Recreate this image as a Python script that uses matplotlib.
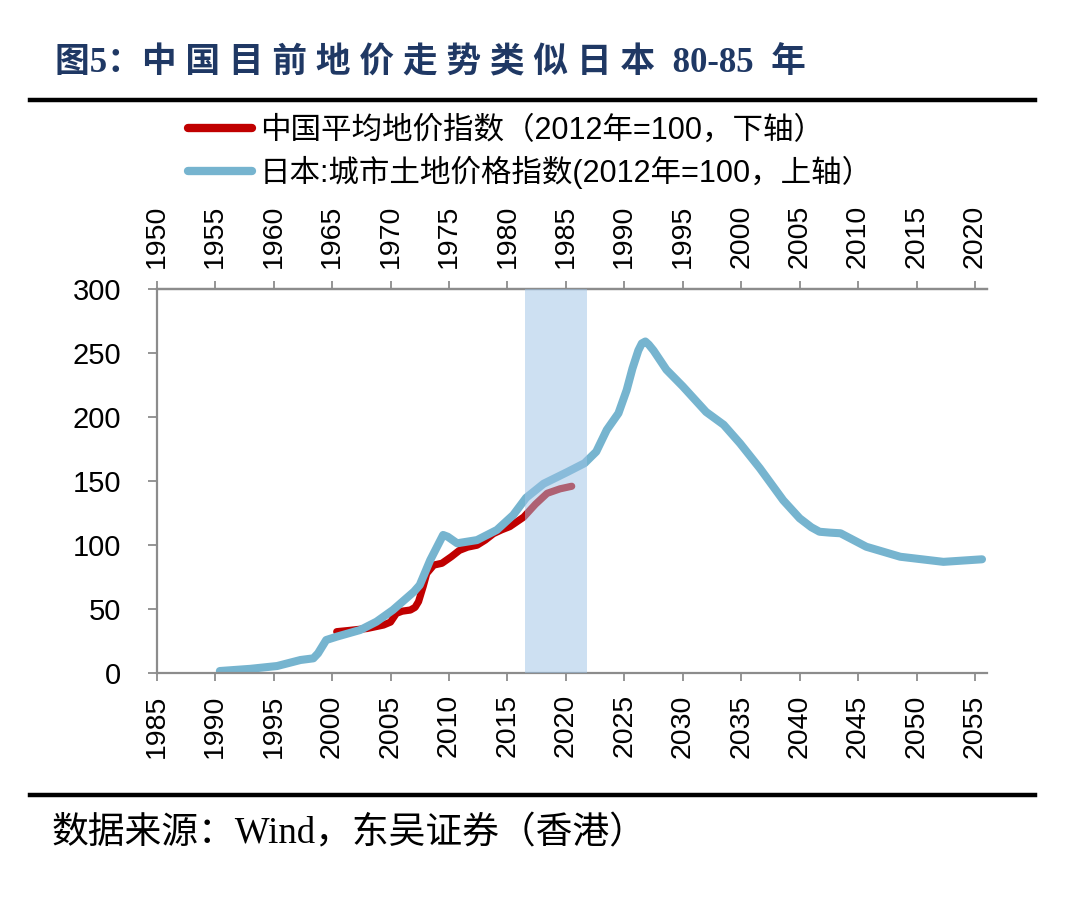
import matplotlib
matplotlib.use("Agg")
import numpy as np
import matplotlib.pyplot as plt
from matplotlib.lines import Line2D

plt.rcParams["font.family"] = ["Liberation Sans", "Noto Sans CJK SC", "DejaVu Sans"]

# ── data ────────────────────────────────────────────────────────────────────
# China average land price index (2012=100), bottom axis years
cn_year = [2000.4, 2001.5, 2003.0, 2004.4, 2005.0, 2005.5, 2006.0, 2006.7,
           2007.1, 2007.4, 2007.8, 2008.1, 2008.7, 2009.4, 2010.2, 2010.9,
           2011.6, 2012.4, 2013.1, 2013.8, 2014.5, 2015.2, 2016.4, 2017.4,
           2018.4, 2019.5, 2020.5]
cn_index = [32.5, 33.5, 35.0, 37.7, 40.0, 46.8, 48.5, 49.4,
            51.5, 56.0, 68.0, 78.0, 84.5, 85.9, 91.0, 96.0,
            98.5, 100.0, 104.0, 109.0, 112.0, 114.5, 122.0, 132.0,
            140.5, 144.0, 146.0]

# Japan urban land price index (2012=100), top axis years
jp_year = [1955.4, 1958.0, 1960.3, 1962.3, 1963.4, 1963.8, 1964.5, 1965.4,
           1967.4, 1968.8, 1970.2, 1972.0, 1972.5, 1973.4, 1974.5, 1974.9,
           1975.7, 1977.4, 1979.1, 1980.5, 1981.6, 1983.1, 1985.1, 1986.6,
           1987.6, 1988.5, 1989.5, 1990.2, 1990.7, 1991.2, 1991.5, 1991.8,
           1992.1, 1992.5, 1993.6, 1995.0, 1997.0, 1998.5, 1999.9, 2001.6,
           2003.6, 2005.0, 2006.0, 2006.7, 2007.6, 2008.5, 2010.7, 2013.6,
           2017.3, 2020.6]
jp_index = [1.8, 3.5, 5.7, 10.4, 11.7, 15.6, 26.0, 28.6,
            33.8, 40.3, 49.4, 63.7, 68.9, 88.4, 108.0, 106.6,
            101.5, 104.0, 111.9, 123.6, 137.0, 148.0, 157.0, 164.0,
            173.0, 190.0, 203.0, 221.0, 238.0, 252.0, 257.5, 259.0,
            256.5, 252.0, 237.0, 224.0, 204.0, 194.0, 179.5, 160.0,
            135.0, 121.0, 114.0, 110.5, 109.8, 109.3, 98.8, 91.0,
            87.0, 89.0]

OFFSET = 35                       # top axis = bottom axis - 35 years
bottom_ticks = list(range(1985, 2056, 5))
y_ticks = list(range(0, 301, 50))
span_years = (2016.5, 2021.8)     # highlighted window, bottom axis

title = "图5：中 国 目 前 地 价 走 势 类 似 日 本  80-85  年"
cn_label = "中国平均地价指数（2012年=100，下轴）"
jp_label = "日本:城市土地价格指数(2012年=100，上轴）"
source = "数据来源：Wind，东吴证券（香港）"

RED = "#c00000"
BLUE = "#76b4cf"
GREY = "#8c8c8c"
NAVY = "#1f3864"

# ── figure ──────────────────────────────────────────────────────────────────
fig = plt.figure(figsize=(10.8, 9.05), dpi=100, facecolor="white")
ax = fig.add_axes([0.1451, 0.256, 0.7685, 0.4247])

ax.plot(cn_year, cn_index, color=RED, lw=5.2, solid_capstyle="round",
        solid_joinstyle="round", zorder=2)
ax.plot(np.array(jp_year) + OFFSET, jp_index, color=BLUE, lw=5.8,
        solid_capstyle="round", solid_joinstyle="round", zorder=2.5)
ax.axvspan(*span_years, color="#9dc3e6", alpha=0.5, lw=0, zorder=3)

ax.set_xlim(1985, 2056)
ax.set_ylim(0, 300)
ax.set_xticks(bottom_ticks)
ax.set_yticks(y_ticks)
ax.tick_params(axis="x", labelrotation=90, labelsize=20.5, direction="out",
               length=6, width=1.3, color=GREY, pad=9)
ax.tick_params(axis="y", labelsize=21, direction="out", length=6.5,
               width=1.3, color=GREY, pad=19)
for side in ("left", "bottom", "top"):
    ax.spines[side].set_color(GREY)
    ax.spines[side].set_linewidth(1.6)
ax.spines["right"].set_visible(False)

top = ax.secondary_xaxis("top", functions=(lambda x: x - OFFSET,
                                           lambda x: x + OFFSET))
top.set_xticks([t - OFFSET for t in bottom_ticks])
top.tick_params(axis="x", labelrotation=90, labelsize=20.5, direction="out",
                length=6, width=1.3, color=GREY, pad=9)
top.spines["top"].set_color(GREY)
top.spines["top"].set_linewidth(1.6)

# legend
handles = [Line2D([], [], color=RED, lw=6, solid_capstyle="round"),
           Line2D([], [], color=BLUE, lw=6, solid_capstyle="round")]
fig.legend(handles, [cn_label, jp_label], loc="upper left",
           bbox_to_anchor=(0.174, 0.872), bbox_transform=fig.transFigure,
           frameon=False, borderpad=0, borderaxespad=0, fontsize=22,
           handlelength=2.1, handletextpad=0.25, labelspacing=0.32)

# title, rules, source
fig.text(0.051, 0.930, title, ha="left", va="center", color=NAVY,
         fontsize=25, fontweight="bold",
         family=["Liberation Serif", "Noto Sans CJK SC"])
fig.add_artist(Line2D([0.028, 0.958], [0.889, 0.889], color="black", lw=3.2))
fig.add_artist(Line2D([0.028, 0.958], [0.121, 0.121], color="black", lw=3.2))
fig.text(0.048, 0.079, source, ha="left", va="center", color="black",
         fontsize=26.5, family=["Liberation Serif", "Noto Sans CJK SC"])

fig.savefig("out.png", dpi=100, facecolor="white")
